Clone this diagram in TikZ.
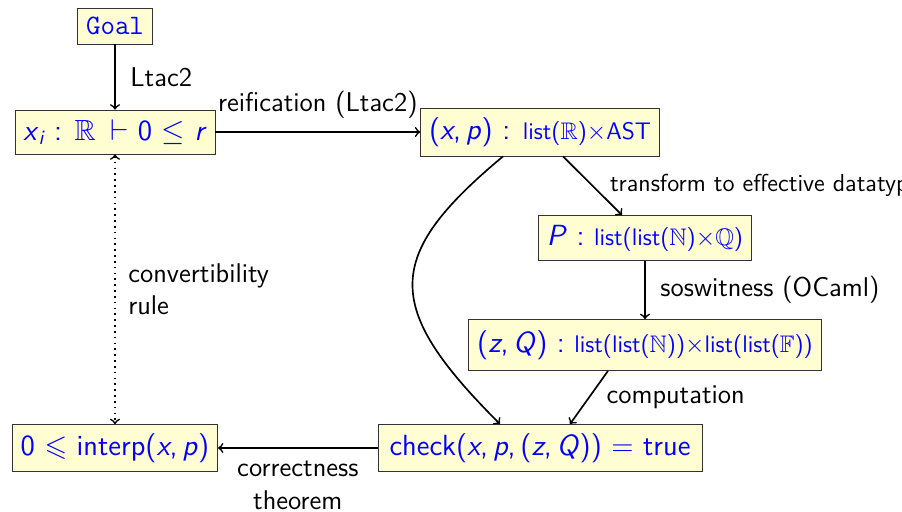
\documentclass[tikz,border=0pt]{standalone}
\usepackage{amsmath,amssymb}
\usetikzlibrary{calc}
\newcommand{\mv}[1]{\textsf{\itshape #1}}
\newcommand{\bigf}{\fontsize{14}{16}\selectfont}
\newcommand{\smf}{\fontsize{11.5}{13}\selectfont}
\begin{document}
\begin{tikzpicture}[x=0.48pt,y=-0.48pt,
  font=\sffamily\fontsize{13}{15.5}\selectfont,
  box/.style={draw=black!80, fill=yellow!18, text=blue, inner xsep=4pt, inner ysep=0pt, font=\sffamily\bigf},
  arr/.style={->, thick},
  lbl/.style={text=black, inner sep=1pt}]
\useasboundingbox (0,0) rectangle (902,512);
\node[box, minimum height=36*0.48pt, font=\ttfamily\fontsize{13.5}{15}\selectfont] (goal) at (115,26) {Goal};
\node[box, minimum height=44*0.48pt] (xi) at (115,132) {\mv{x}$_{\mv{i}}$ : $\mathbb{R}$ \,$\vdash$ 0 $\leq$ \mv{r}};
\node[box, minimum height=48*0.48pt] (xp) at (540,132) {(\mv{x},\,\mv{p}) : {\smf list($\mathbb{R}$)$\times$AST}};
\node[box, minimum height=45*0.48pt] (P) at (645,238) {\mv{P} : {\smf list(list($\mathbb{N}$)$\times\mathbb{Q}$)}};
\node[box, minimum height=51*0.48pt] (zQ) at (645,345) {(\mv{z},\,\mv{Q}) : {\smf list(list($\mathbb{N}$))$\times$list(list($\mathbb{F}$))}};
\node[box, minimum height=47*0.48pt, inner xsep=5.5pt] (check) at (540,448) {check(\mv{x},\,\mv{p},\,(\mv{z},\,\mv{Q})) = true};
\node[box, minimum height=47*0.48pt] (interp) at (115,448) {0 $\leqslant$ interp(\mv{x},\,\mv{p})};

\draw[arr] (goal) -- node[lbl, right=6pt] {Ltac2} (xi);
\draw[arr] (xi) -- node[lbl, above=5pt] {reification (Ltac2)} (xp);
\draw[arr] ($(xp.south)+(23,0)$) -- node[lbl, anchor=west, pos=0.5, xshift=7pt, font=\sffamily\fontsize{11.8}{14}\selectfont] {transform to effective datatypes} ($(P.north)+(-23,0)$);
\draw[arr] (P) -- node[lbl, right=6pt] {soswitness (OCaml)} (zQ);
\draw[arr] ($(zQ.south)+(-37,0)$) -- node[lbl, anchor=west, pos=0.5, xshift=7pt] {computation} ($(check.north)+(30,0)$);
\draw[arr] ($(xp.south)+(-37,0)$) .. controls +(-120,100) and +(-117,-117) .. ($(check.north)+(-40,0)$);
\draw[arr] (check) -- node[lbl, below=5pt, align=center] {correctness\\theorem} (interp);
\draw[<->, thick, dotted] (xi) -- node[lbl, right=5pt, align=left] {convertibility\\rule} (interp);
\end{tikzpicture}
\end{document}
